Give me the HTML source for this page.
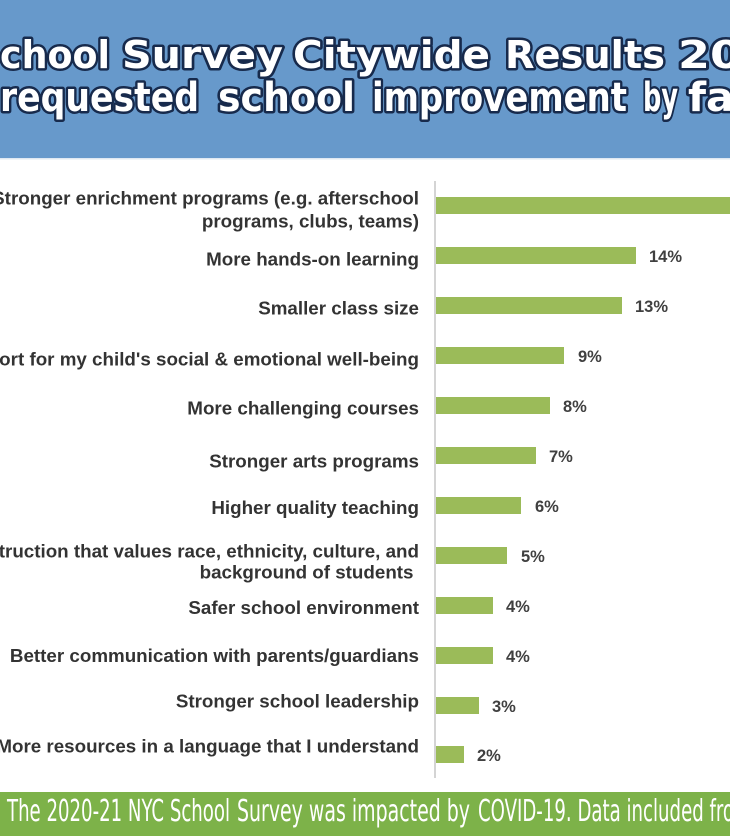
<!DOCTYPE html>
<html>
<head>
<meta charset="utf-8">
<style>
  html,body{margin:0;padding:0;background:#ffffff;}
  body{width:730px;height:836px;overflow:hidden;}
  svg{display:block;}
  .lab{font-family:"Liberation Sans",Arial,sans-serif;font-weight:bold;font-size:18.8px;fill:#333333;}
  .val{font-family:"Liberation Sans",Arial,sans-serif;font-weight:bold;font-size:16.5px;fill:#404040;}
  .t1{font-family:"DejaVu Sans","Liberation Sans",sans-serif;font-weight:bold;font-size:38px;fill:#ffffff;stroke:#172a4c;stroke-width:5px;paint-order:stroke;stroke-linejoin:round;}
  .t2{font-family:"DejaVu Sans Condensed","DejaVu Sans","Liberation Sans",sans-serif;font-weight:bold;font-size:40px;fill:#ffffff;stroke:#172a4c;stroke-width:5px;paint-order:stroke;stroke-linejoin:round;}
  .ft{font-family:"DejaVu Sans Condensed","DejaVu Sans","Liberation Sans",sans-serif;font-size:30px;fill:#ffffff;}
</style>
</head>
<body>
<svg width="730" height="836" viewBox="0 0 730 836" xmlns="http://www.w3.org/2000/svg">
  <!-- header -->
  <rect x="0" y="0" width="730" height="158" fill="#6799cb"/>
  <rect x="0" y="158" width="730" height="1.5" fill="#dfe8f2"/>

  <!-- title line 1 -->
  <text class="t1" x="0" y="68" textLength="110" lengthAdjust="spacingAndGlyphs">chool</text>
  <text class="t1" x="122" y="68" textLength="161" lengthAdjust="spacingAndGlyphs">Survey</text>
  <text class="t1" x="293" y="68" textLength="197" lengthAdjust="spacingAndGlyphs">Citywide</text>
  <text class="t1" x="505" y="68" textLength="160" lengthAdjust="spacingAndGlyphs">Results</text>
  <text class="t1" x="678" y="68" textLength="64" lengthAdjust="spacingAndGlyphs">20</text>

  <!-- title line 2 -->
  <text class="t2" x="0" y="111" textLength="199" lengthAdjust="spacingAndGlyphs">requested</text>
  <text class="t2" x="218" y="111" textLength="137" lengthAdjust="spacingAndGlyphs">school</text>
  <text class="t2" x="372" y="111" textLength="255" lengthAdjust="spacingAndGlyphs">improvement</text>
  <text class="t2" x="643" y="111" textLength="35" lengthAdjust="spacingAndGlyphs">by</text>
  <text class="t2" x="688" y="111" textLength="46" lengthAdjust="spacingAndGlyphs">fa</text>

  <!-- axis -->
  <rect x="434" y="181" width="2" height="597" fill="#d4d4d4"/>

  <!-- bars -->
  <g fill="#9bbb59">
    <rect x="436" y="197" width="300" height="17"/>
    <rect x="436" y="247" width="200" height="17"/>
    <rect x="436" y="297" width="186" height="17"/>
    <rect x="436" y="347" width="128" height="17"/>
    <rect x="436" y="397" width="114" height="17"/>
    <rect x="436" y="447" width="100" height="17"/>
    <rect x="436" y="497" width="85" height="17"/>
    <rect x="436" y="547" width="71" height="17"/>
    <rect x="436" y="597" width="57" height="17"/>
    <rect x="436" y="647" width="57" height="17"/>
    <rect x="436" y="697" width="43" height="17"/>
    <rect x="436" y="746" width="28" height="17"/>
  </g>

  <!-- value labels -->
  <text class="val" x="649" y="262">14%</text>
  <text class="val" x="635" y="312">13%</text>
  <text class="val" x="578" y="362">9%</text>
  <text class="val" x="563" y="412">8%</text>
  <text class="val" x="549" y="462">7%</text>
  <text class="val" x="535" y="512">6%</text>
  <text class="val" x="521" y="562">5%</text>
  <text class="val" x="506" y="612">4%</text>
  <text class="val" x="506" y="662">4%</text>
  <text class="val" x="492" y="712">3%</text>
  <text class="val" x="477" y="761">2%</text>

  <!-- category labels -->
  <g class="lab" text-anchor="end">
    <text x="419" y="204.3">Stronger enrichment programs (e.g. afterschool</text>
    <text x="419" y="227.5">programs, clubs, teams)</text>
    <text x="419" y="265.7">More hands-on learning</text>
    <text x="419" y="314.3">Smaller class size</text>
    <text x="419" y="365.7">More support for my child's social &amp; emotional well-being</text>
    <text x="419" y="414.7">More challenging courses</text>
    <text x="419" y="467.3">Stronger arts programs</text>
    <text x="419" y="514">Higher quality teaching</text>
    <text x="419" y="557.3">Instruction that values race, ethnicity, culture, and</text>
    <text x="413.5" y="578.7">background of students</text>
    <text x="419" y="614">Safer school environment</text>
    <text x="419" y="662">Better communication with parents/guardians</text>
    <text x="419" y="707.3">Stronger school leadership</text>
    <text x="419" y="752.3">More resources in a language that I understand</text>
  </g>

  <!-- footer -->
  <rect x="0" y="792" width="730" height="44" fill="#7db249"/>
  <text class="ft" x="7" y="821" textLength="223" lengthAdjust="spacingAndGlyphs">The 2020-21 NYC School</text>
  <text class="ft" x="237" y="821" textLength="233" lengthAdjust="spacingAndGlyphs">Survey was impacted by</text>
  <text class="ft" x="478" y="821" textLength="256" lengthAdjust="spacingAndGlyphs">COVID-19. Data included fro</text>
</svg>
</body>
</html>
